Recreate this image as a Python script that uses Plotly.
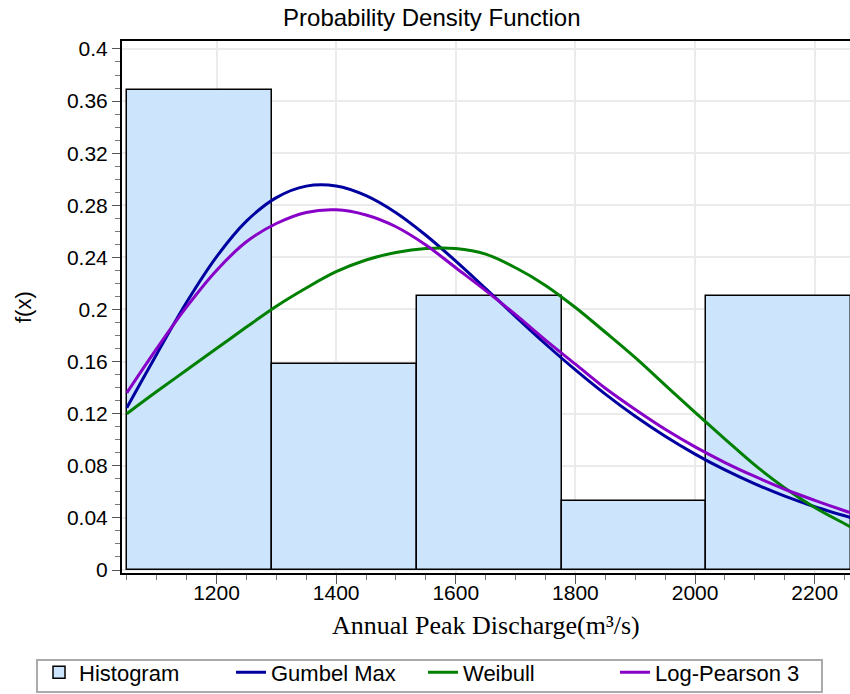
import plotly.graph_objects as go

# ---- data ----
bin_edges = [1051, 1293, 1535, 1777, 2019, 2261]
hist_values = [0.3684, 0.1579, 0.2105, 0.0526, 0.2105]

x_curve = [1050, 1100, 1150, 1200, 1250, 1300, 1350, 1400, 1450, 1500, 1550, 1600,
           1650, 1700, 1750, 1800, 1850, 1900, 1950, 2000, 2050, 2100, 2150, 2200,
           2250, 2260]
gumbel = [0.1246, 0.1657, 0.2055, 0.2404, 0.2678, 0.2859, 0.2947, 0.2948, 0.2874,
          0.2743, 0.2570, 0.2371, 0.2160, 0.1945, 0.1735, 0.1536, 0.1350, 0.1180,
          0.1027, 0.0890, 0.0768, 0.0661, 0.0567, 0.0486, 0.0416, 0.0403]
weibull = [0.120, 0.137, 0.1535, 0.170, 0.1865, 0.2025, 0.2165, 0.229, 0.238, 0.2438,
           0.2468, 0.2468, 0.2425, 0.232, 0.2185, 0.2015, 0.1825, 0.163, 0.142, 0.121,
           0.1005, 0.0805, 0.063, 0.048, 0.0355, 0.033]
lp3 = [0.136, 0.170, 0.202, 0.230, 0.252, 0.266, 0.2745, 0.2765, 0.2725, 0.2635,
       0.2495, 0.232, 0.2145, 0.196, 0.1765, 0.158, 0.1395, 0.1232, 0.108, 0.0945,
       0.0825, 0.0718, 0.062, 0.0535, 0.0455, 0.044]

y_tickvals = [0, 0.04, 0.08, 0.12, 0.16, 0.2, 0.24, 0.28, 0.32, 0.36, 0.4]
y_ticktext = ["0", "0.04", "0.08", "0.12", "0.16", "0.2", "0.24", "0.28", "0.32", "0.36", "0.4"]
x_tickvals = [1200, 1400, 1600, 1800, 2000, 2200]
x_ticktext = ["1200", "1400", "1600", "1800", "2000", "2200"]

centers = [(a + b) / 2 for a, b in zip(bin_edges[:-1], bin_edges[1:])]
widths = [b - a for a, b in zip(bin_edges[:-1], bin_edges[1:])]

FONT = "Liberation Sans, Arial, sans-serif"

fig = go.Figure()
fig.add_trace(go.Bar(
    x=centers, y=hist_values, width=widths, name="Histogram",
    marker=dict(color="#CCE4FC", line=dict(color="#000000", width=1.5)),
))
fig.add_trace(go.Scatter(x=x_curve, y=gumbel, mode="lines", name="Gumbel Max",
                         line=dict(color="#0000A0", width=3, shape="spline")))
fig.add_trace(go.Scatter(x=x_curve, y=weibull, mode="lines", name="Weibull",
                         line=dict(color="#008000", width=3, shape="spline")))
fig.add_trace(go.Scatter(x=x_curve, y=lp3, mode="lines", name="Log-Pearson 3",
                         line=dict(color="#8800C8", width=3, shape="spline")))

fig.update_layout(
    width=850, height=694,
    margin=dict(l=122, r=0, t=41, b=121),
    paper_bgcolor="white", plot_bgcolor="white",
    bargap=0,
    font=dict(family=FONT, color="black"),
    title=dict(text="Probability Density Function", x=0.508, xanchor="center",
               y=0.975, yanchor="middle", font=dict(size=24, family=FONT, color="black")),
    xaxis=dict(
        range=[1042, 2259], tickvals=x_tickvals, ticktext=x_ticktext,
        showline=True, linecolor="black", linewidth=2, mirror=True,
        ticks="outside", ticklen=9, tickcolor="#555555", tickwidth=1,
        ticklabelstandoff=-9,
        tickfont=dict(size=21, family=FONT, color="black"),
        showgrid=True, gridcolor="#EBEBEB", gridwidth=1.5,
        minor=dict(dtick=50, tick0=0, ticks="outside", ticklen=5, tickcolor="#777777", showgrid=False),
        zeroline=False,
    ),
    yaxis=dict(
        range=[-0.0023, 0.4061], tickvals=y_tickvals, ticktext=y_ticktext,
        showline=True, linecolor="black", linewidth=2,
        ticks="outside", ticklen=8, tickcolor="#555555", tickwidth=1,
        tickfont=dict(size=21, family=FONT, color="black"),
        showgrid=True, gridcolor="#EBEBEB", gridwidth=1.5,
        minor=dict(dtick=0.01, tick0=0, ticks="outside", ticklen=5, tickcolor="#777777", showgrid=False),
        zeroline=False,
    ),
    legend=dict(
        orientation="h", x=-0.114, xanchor="left", y=-0.2265, yanchor="bottom",
        font=dict(size=22, family=FONT, color="black"),
        borderwidth=0, bgcolor="rgba(0,0,0,0)",
        entrywidth=147, entrywidthmode="pixels",
    ),
    shapes=[
        dict(type="rect", xref="paper", yref="paper",
             x0=-0.1168, x1=0.9615, y0=-0.1635, y1=-0.2237,
             line=dict(color="#AAAAAA", width=2), fillcolor="white", layer="below"),
    ],
    annotations=[
        dict(text="Annual Peak Discharge(m³/s)", xref="paper", yref="paper",
             x=0.5, y=-0.098, xanchor="center", yanchor="middle", showarrow=False,
             font=dict(size=26, family="Liberation Serif, Times New Roman, serif", color="black")),
        dict(text="f(x)", xref="paper", yref="paper", x=-0.136, y=0.5,
             xanchor="center", yanchor="middle", textangle=-90, showarrow=False,
             font=dict(size=22, family=FONT, color="black")),
    ],
)

fig.write_html("out.html")
